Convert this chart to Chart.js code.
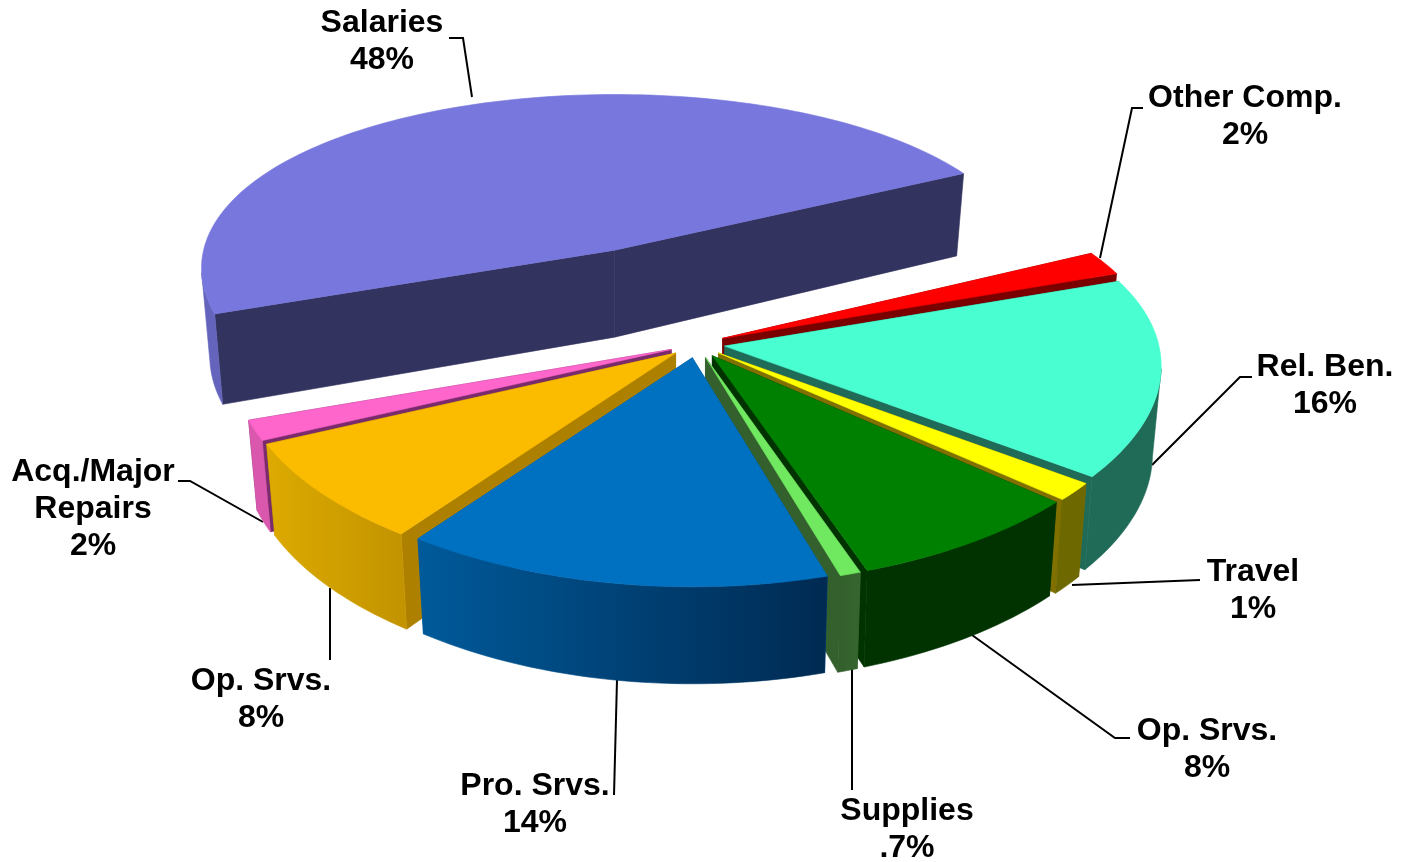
<!DOCTYPE html>
<html>
<head>
<meta charset="utf-8">
<title>Expenditures</title>
<script src="https://cdn.jsdelivr.net/npm/chart.js@4/dist/chart.umd.js"></script>
<style>
    html, body { margin: 0; padding: 0; background: #fff; }
    canvas { display: block; }
</style>
</head>
<body>
<canvas id="budgetChart" width="1401" height="862"></canvas>
<script>
const categories = ['Salaries', 'Other Comp.', 'Rel. Ben.', 'Travel', 'Op. Srvs.', 'Supplies', 'Pro. Srvs.', 'Op. Srvs.', 'Acq./Major Repairs'];
const shares = [48, 2, 16, 1.4, 8, 0.7, 14.4, 8, 1.6];
const shareLabels = ['48%', '2%', '16%', '1%', '8%', '.7%', '14%', '8%', '2%'];

// how far each slice is pulled out of the pie
const explode = [205, 28, 28, 28, 28, 28, 28, 28, 28];

const topColors = ['#7777dd', '#ff0000', '#49ffd2', '#ffff00', '#008000', '#70e860', '#0070c0', '#fbbc00', '#ff66cc'];
const sideLeft = ['#6464bc', '#c00000', '#1f6b58', '#6d6800', '#003300', '#33602c', '#005a9a', '#dcaa00', '#d957ad'];
const sideRight = ['#6464bc', '#c00000', '#1f6b58', '#6d6800', '#003300', '#36662f', '#002a52', '#c49400', '#d957ad'];
const edgeColors = ['#33335f', '#7a0000', '#1f6b58', '#807000', '#003300', '#33602c', '#005a9a', '#ad8000', '#7a2b6b'];

// label text blocks: centre x, centre y of first line
const labelLines = [['Salaries'], ['Other Comp.'], ['Rel. Ben.'], ['Travel'], ['Op. Srvs.'], ['Supplies'], ['Pro. Srvs.'], ['Op. Srvs.'], ['Acq./Major', 'Repairs']];
const labelX = [382, 1245, 1325, 1253, 1207, 907, 535, 261, 93];
const labelY = [23, 98, 367, 572, 731, 811, 786, 681, 472];

const leaders = [
    [[449, 38], [463, 38], [472, 97]],
    [[1143, 108], [1132, 108], [1100, 258]],
    [[1252, 377], [1240, 377], [1152, 465]],
    [[1200, 580], [1072, 585]],
    [[1130, 738], [1115, 738], [972, 635]],
    [[852, 790], [852, 668]],
    [[614, 795], [617, 680]],
    [[330, 660], [330, 588]],
    [[178, 481], [190, 481], [263, 522]]
];

// the flat pie circle projected with perspective onto the page
const view = {
    cx: 697, cy: 344, rx: 438, ry: 200,
    perspX: 0.1, perspY: 0.14,
    squeeze: 0.02, depth: 87, depthGrow: 10,
    explodeY: 0.5, shrinkX: 0.0003, shrinkY: 0.00055
};

function project(el, angle, r, z) {
    const mid = (el.startAngle + el.endAngle) / 2;
    const pull = explode[el.$index];
    const u = r * Math.cos(angle);
    const v = r * Math.sin(angle);
    const scaleX = 1 - view.shrinkX * pull;
    const scaleY = 1 - view.shrinkY * pull;
    return {
        x: view.cx + Math.cos(mid) * pull + scaleX * (view.rx * u / (1 - view.perspX * v)) * (1 - view.squeeze * z),
        y: view.cy + Math.sin(mid) * pull * view.explodeY + scaleY * view.ry * v / (1 - view.perspY * v) + z * (view.depth + view.depthGrow * v)
    };
}

function fillPoly(ctx, points, fill) {
    ctx.beginPath();
    points.forEach(function (p, i) {
        if (i === 0) {
            ctx.moveTo(p.x, p.y);
        } else {
            ctx.lineTo(p.x, p.y);
        }
    });
    ctx.closePath();
    ctx.fillStyle = fill;
    ctx.fill();
    // thin stroke closes the hairlines between faces
    ctx.strokeStyle = fill;
    ctx.lineWidth = 0.6;
    ctx.stroke();
}

function drawSlice(ctx, el) {
    const i = el.$index;
    const start = el.startAngle;
    const end = el.endAngle;
    const steps = Math.max(4, Math.ceil((end - start) * 40));
    const rim = [];
    const wallTop = [];
    const wallLow = [];
    for (let s = 0; s <= steps; s++) {
        const a = start + (end - start) * s / steps;
        rim.push(project(el, a, 1, 0));
        // the wall only shows from the widest point of the rim forward
        if (Math.sin(a) > view.perspX) {
            wallTop.push(project(el, a, 1, 0));
            wallLow.unshift(project(el, a, 1, 1));
        }
    }
    const apex = project(el, 0, 0, 0);
    const apexLow = project(el, 0, 0, 1);

    // straight cut faces
    fillPoly(ctx, [apex, rim[0], project(el, start, 1, 1), apexLow], edgeColors[i]);
    fillPoly(ctx, [apex, rim[steps], project(el, end, 1, 1), apexLow], edgeColors[i]);

    // curved outside wall
    if (wallTop.length > 1) {
        const xs = wallTop.map(function (p) { return p.x; });
        const shade = ctx.createLinearGradient(Math.min.apply(null, xs), 0, Math.max.apply(null, xs), 0);
        shade.addColorStop(0, sideLeft[i]);
        shade.addColorStop(1, sideRight[i]);
        fillPoly(ctx, wallTop.concat(wallLow), shade);
    }

    // top face
    fillPoly(ctx, [apex].concat(rim), topColors[i]);
}

const pie3d = {
    id: 'pie3d',
    beforeDatasetsDraw: function (chart) {
        const ctx = chart.ctx;
        ctx.save();
        ctx.strokeStyle = '#000';
        ctx.lineWidth = 2;
        leaders.forEach(function (line) {
            ctx.beginPath();
            line.forEach(function (p, i) {
                if (i === 0) {
                    ctx.moveTo(p[0], p[1]);
                } else {
                    ctx.lineTo(p[0], p[1]);
                }
            });
            ctx.stroke();
        });
        ctx.restore();
    },
    beforeDatasetDraw: function (chart, args) {
        const ctx = chart.ctx;
        const arcs = chart.getDatasetMeta(args.index).data.slice();
        arcs.forEach(function (el, i) { el.$index = i; });
        // back slices first
        arcs.sort(function (a, b) {
            return Math.sin((a.startAngle + a.endAngle) / 2) - Math.sin((b.startAngle + b.endAngle) / 2);
        });
        ctx.save();
        arcs.forEach(function (el) { drawSlice(ctx, el); });
        ctx.restore();
        return false;
    },
    afterDatasetsDraw: function (chart) {
        const ctx = chart.ctx;
        ctx.save();
        ctx.font = 'bold 32px "Liberation Sans", Arial, sans-serif';
        ctx.fillStyle = '#000';
        ctx.textAlign = 'center';
        ctx.textBaseline = 'middle';
        labelLines.forEach(function (lines, i) {
            lines.concat(shareLabels[i]).forEach(function (text, n) {
                ctx.fillText(text, labelX[i], labelY[i] + n * 37);
            });
        });
        ctx.restore();
    }
};

document.addEventListener('DOMContentLoaded', function () {
    new Chart(document.getElementById('budgetChart').getContext('2d'), {
        type: 'pie',
        data: {
            labels: categories,
            datasets: [{
                data: shares,
                backgroundColor: topColors,
                borderWidth: 0
            }]
        },
        options: {
            responsive: false,
            animation: false,
            rotation: 250,
            plugins: {
                legend: { display: false },
                tooltip: { enabled: false }
            }
        },
        plugins: [pie3d]
    });
});
</script>
</body>
</html>
